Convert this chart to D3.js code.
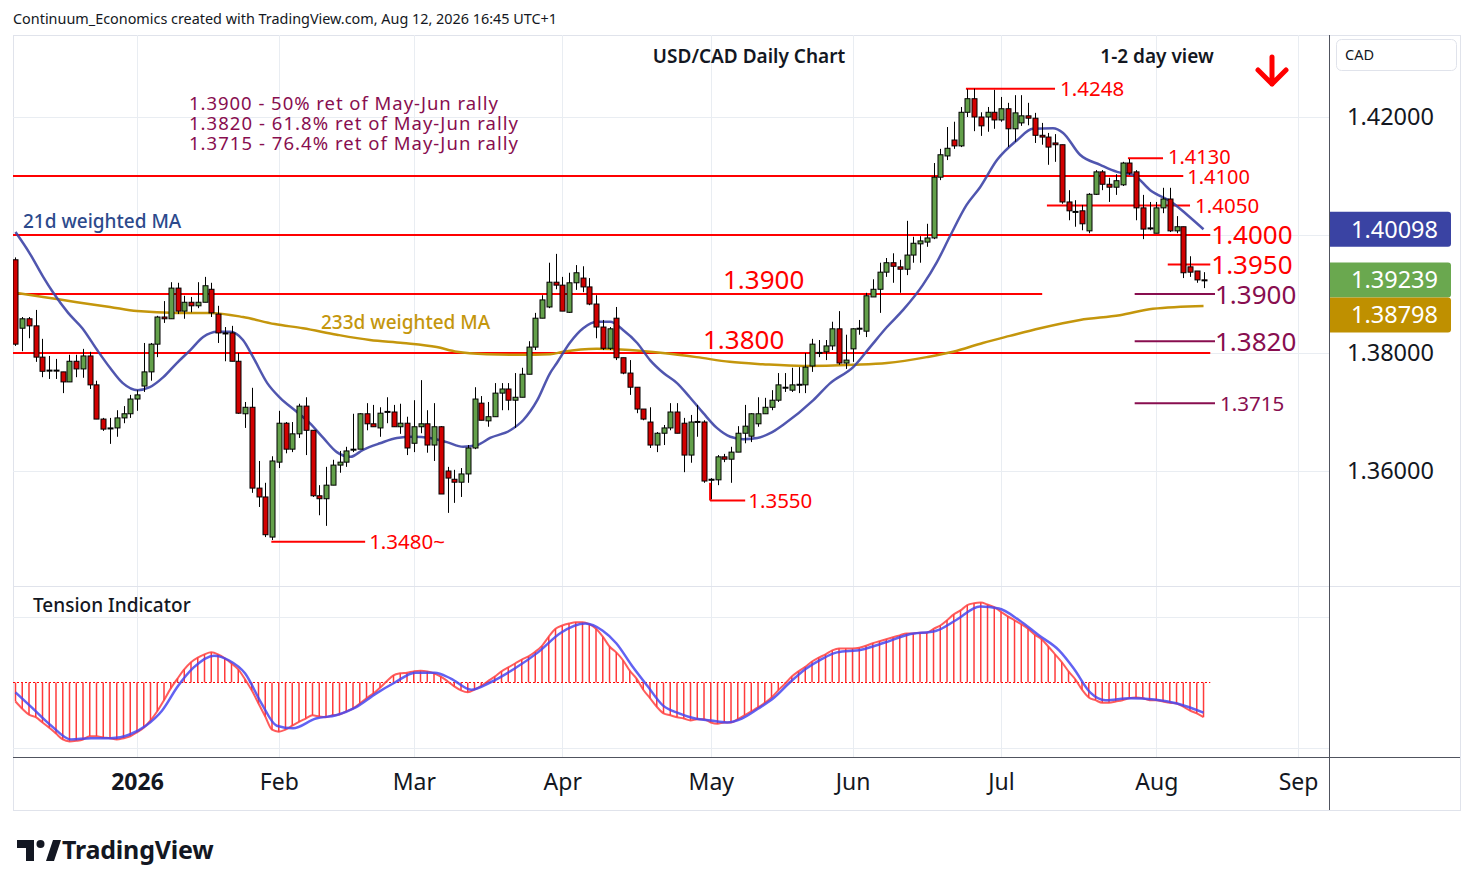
<!DOCTYPE html>
<html>
<head>
<meta charset="utf-8">
<script src="https://cdn.jsdelivr.net/npm/d3@7/dist/d3.min.js"></script>
<style>
  body { margin: 0; background: #fff; }
  svg text { font-family: "Noto Sans", "DejaVu Sans", sans-serif; }
</style>
</head>
<body>
<div id="chart"></div>
<script>
// daily USD/CAD candles, Dec 5 2025 .. Aug 12 2026 (index = trading day)
var open = [
1.3958,1.3842,1.3858,1.3846,1.3793,1.3770,1.3771,1.3768,1.3751,1.3786,
1.3773,1.3795,1.3746,1.3688,1.3672,1.3673,1.3690,1.3697,1.3722,1.3744,
1.3768,1.3815,1.3861,1.3858,1.3910,1.3871,1.3886,1.3880,1.3886,1.3908,
1.3866,1.3834,1.3834,1.3786,1.3697,1.3708,1.3571,1.3556,1.3488,1.3615,
1.3681,1.3637,1.3663,1.3710,1.3669,1.3558,1.3553,1.3576,1.3610,1.3615,
1.3636,1.3637,1.3697,1.3680,1.3673,1.3700,1.3700,1.3675,1.3681,1.3647,
1.3675,1.3680,1.3644,1.3675,1.3600,1.3586,1.3581,1.3595,1.3639,1.3715,
1.3685,1.3692,1.3732,1.3739,1.3720,1.3725,1.3764,1.3810,1.3859,1.3878,
1.3920,1.3915,1.3869,1.3919,1.3927,1.3912,1.3883,1.3844,1.3808,1.3859,
1.3792,1.3766,1.3742,1.3705,1.3683,1.3644,1.3664,1.3673,1.3700,1.3681,
1.3627,1.3683,1.3683,1.3585,1.3585,1.3624,1.3620,1.3632,1.3664,1.3659,
1.3680,1.3697,1.3708,1.3720,1.3741,1.3737,1.3746,1.3746,1.3778,1.3800,
1.3802,1.3812,1.3841,1.3783,1.3807,1.3841,1.3837,1.3895,1.3908,1.3937,
1.3953,1.3946,1.3942,1.3966,1.3985,1.3988,1.3995,1.4098,1.4134,1.4161,
1.4151,1.4208,1.4231,1.4200,1.4200,1.4208,1.4195,1.4214,1.4180,1.4190,
1.4202,1.4198,1.4169,1.4166,1.4156,1.4153,1.4056,1.4039,1.4041,1.4007,
1.4069,1.4107,1.4086,1.4081,1.4085,1.4122,1.4107,1.4046,1.4012,1.4003,
1.4046,1.4061,1.4007,1.4014,1.3946,1.3939,1.3924];

var high = [
1.3962,1.3861,1.3861,1.3873,1.3824,1.3795,1.3790,1.3768,1.3797,1.3797,
1.3807,1.3802,1.3753,1.3690,1.3690,1.3703,1.3710,1.3729,1.3737,1.3817,
1.3817,1.3863,1.3888,1.3920,1.3919,1.3897,1.3895,1.3920,1.3929,1.3919,
1.3880,1.3844,1.3846,1.3800,1.3717,1.3741,1.3617,1.3580,1.3625,1.3702,
1.3683,1.3683,1.3714,1.3725,1.3669,1.3576,1.3607,1.3619,1.3634,1.3641,
1.3697,1.3698,1.3715,1.3712,1.3708,1.3725,1.3712,1.3714,1.3692,1.3720,
1.3754,1.3703,1.3715,1.3676,1.3607,1.3602,1.3605,1.3644,1.3742,1.3727,
1.3717,1.3749,1.3749,1.3749,1.3766,1.3775,1.3820,1.3868,1.3898,1.3953,
1.3968,1.3929,1.3936,1.3949,1.3947,1.3927,1.3898,1.3856,1.3844,1.3878,
1.3792,1.3788,1.3742,1.3705,1.3708,1.3666,1.3678,1.3715,1.3715,1.3690,
1.3695,1.3712,1.3686,1.3588,1.3627,1.3629,1.3641,1.3676,1.3712,1.3698,
1.3725,1.3724,1.3737,1.3766,1.3766,1.3775,1.3776,1.3800,1.3824,1.3822,
1.3822,1.3853,1.3871,1.3831,1.3842,1.3856,1.3902,1.3925,1.3953,1.3961,
1.3969,1.3958,1.4024,1.3997,1.3998,1.4019,1.4122,1.4146,1.4183,1.4192,
1.4217,1.4247,1.4248,1.4208,1.4217,1.4246,1.4234,1.4224,1.4237,1.4237,
1.4224,1.4207,1.4190,1.4173,1.4171,1.4153,1.4076,1.4059,1.4051,1.4071,
1.4110,1.4110,1.4097,1.4103,1.4124,1.4129,1.4110,1.4068,1.4056,1.4056,
1.4080,1.4080,1.4032,1.4014,1.3964,1.3939,1.3937];

var low = [
1.3812,1.3803,1.3825,1.3785,1.3759,1.3756,1.3756,1.3732,1.3751,1.3759,
1.3758,1.3739,1.3688,1.3668,1.3646,1.3658,1.3681,1.3690,1.3702,1.3734,
1.3753,1.3793,1.3851,1.3858,1.3866,1.3858,1.3869,1.3876,1.3886,1.3861,
1.3817,1.3786,1.3786,1.3697,1.3673,1.3563,1.3539,1.3488,1.3483,1.3605,
1.3630,1.3632,1.3656,1.3627,1.3556,1.3525,1.3507,1.3576,1.3597,1.3607,
1.3632,1.3637,1.3669,1.3675,1.3658,1.3681,1.3675,1.3663,1.3627,1.3632,
1.3664,1.3631,1.3617,1.3561,1.3529,1.3546,1.3556,1.3580,1.3637,1.3686,
1.3675,1.3692,1.3703,1.3703,1.3673,1.3725,1.3764,1.3805,1.3859,1.3876,
1.3908,1.3871,1.3868,1.3907,1.3903,1.3881,1.3825,1.3805,1.3805,1.3788,
1.3764,1.3729,1.3698,1.3686,1.3639,1.3632,1.3644,1.3669,1.3664,1.3598,
1.3614,1.3658,1.3580,1.3552,1.3576,1.3615,1.3580,1.3632,1.3647,1.3649,
1.3675,1.3697,1.3703,1.3717,1.3734,1.3734,1.3732,1.3732,1.3768,1.3793,
1.3788,1.3805,1.3780,1.3773,1.3785,1.3831,1.3827,1.3895,1.3868,1.3929,
1.3919,1.3902,1.3932,1.3953,1.3953,1.3980,1.3993,1.4093,1.4127,1.4146,
1.4149,1.4200,1.4176,1.4168,1.4175,1.4180,1.4192,1.4149,1.4158,1.4185,
1.4186,1.4156,1.4153,1.4119,1.4124,1.4053,1.4025,1.4014,1.4008,1.4003,
1.4068,1.4076,1.4056,1.4068,1.4083,1.4102,1.4025,1.3993,1.4008,1.4003,
1.4037,1.4005,1.4003,1.3927,1.3929,1.3919,1.3910];

var close = [
1.3815,1.3858,1.3846,1.3793,1.3769,1.3771,1.3770,1.3751,1.3786,1.3773,
1.3795,1.3746,1.3688,1.3671,1.3673,1.3690,1.3697,1.3722,1.3729,1.3768,
1.3815,1.3861,1.3858,1.3910,1.3871,1.3886,1.3880,1.3886,1.3914,1.3868,
1.3834,1.3833,1.3786,1.3698,1.3708,1.3571,1.3556,1.3492,1.3617,1.3681,
1.3637,1.3663,1.3710,1.3669,1.3558,1.3553,1.3576,1.3610,1.3615,1.3634,
1.3637,1.3697,1.3680,1.3675,1.3698,1.3701,1.3675,1.3681,1.3639,1.3675,
1.3680,1.3644,1.3675,1.3561,1.3588,1.3581,1.3595,1.3639,1.3722,1.3686,
1.3692,1.3732,1.3739,1.3720,1.3725,1.3764,1.3810,1.3859,1.3890,1.3920,
1.3915,1.3871,1.3919,1.3936,1.3912,1.3883,1.3844,1.3808,1.3841,1.3792,
1.3766,1.3742,1.3705,1.3688,1.3644,1.3664,1.3673,1.3700,1.3664,1.3627,
1.3683,1.3684,1.3583,1.3586,1.3624,1.3620,1.3632,1.3664,1.3676,1.3697,
1.3697,1.3708,1.3720,1.3746,1.3742,1.3746,1.3747,1.3776,1.3815,1.3801,
1.3812,1.3841,1.3783,1.3788,1.3841,1.3842,1.3897,1.3908,1.3937,1.3953,
1.3947,1.3942,1.3966,1.3986,1.3990,1.3995,1.4098,1.4136,1.4147,1.4151,
1.4208,1.4231,1.4200,1.4185,1.4208,1.4195,1.4214,1.4180,1.4207,1.4202,
1.4198,1.4169,1.4166,1.4149,1.4153,1.4056,1.4041,1.4040,1.4019,1.4069,
1.4107,1.4086,1.4081,1.4092,1.4122,1.4105,1.4046,1.4010,1.4011,1.4046,
1.4061,1.4007,1.4014,1.3936,1.3937,1.39239,1.39239];

// 21d weighted MA at bar index
var wma21Idx = [0,2.1,4.1,5.6,7.8,9.9,12.1,14,15.9,18.1,19.9,21.9,23.9,25.9,27.8,29.9,31.8,33.7,35.2,37.3,39.2,41.7,43.6,45.6,47.6,49.6,51.5,54,56.5,58.9,61.4,63.9,66.3,68.4,70.3,73.3,75.2,77.3,79.2,80.2,82.1,84.1,86.1,88.1,90,92.1,94,96,98,99.9,101.9,103.9,105.9,107.8,109.9,111.8,113.7,118.2,120.7,124.1,126.6,129.1,131.5,134.4,136.5,138.4,140.9,142.9,145.4,148.4,150.7,153.7,155.2,157.7,160.7,163.2,165.6,168.1,171.5,173.6,176];
var wma21 = [1.4005,1.3969,1.3929,1.3902,1.3868,1.3842,1.3805,1.3775,1.3749,1.3737,1.3742,1.3759,1.3783,1.3805,1.3827,1.3836,1.3836,1.3822,1.3793,1.3749,1.3724,1.3700,1.3681,1.3656,1.3632,1.3624,1.3636,1.3647,1.3656,1.3658,1.3656,1.3649,1.3641,1.3644,1.3656,1.3669,1.3686,1.3720,1.3766,1.3783,1.3817,1.3842,1.3853,1.3853,1.3839,1.3817,1.3788,1.3766,1.3749,1.3725,1.3698,1.3673,1.3658,1.3654,1.3656,1.3664,1.3678,1.3720,1.3749,1.3776,1.3810,1.3844,1.3873,1.3915,1.3954,1.3997,1.4051,1.4081,1.4127,1.4161,1.4180,1.4181,1.4173,1.4136,1.4119,1.4107,1.4102,1.4076,1.4054,1.4034,1.40098];

// 233d weighted MA
var wma233Idx = [0,4.1,9.1,14,18,23.9,28.8,33.7,38.4,42.6,47.6,52.5,57.4,62.4,65.4,69.8,74.7,79.2,81.1,86.1,91,95.9,100.9,105.8,110.7,116.7,124.1,129.1,135,138.9,143.3,147.3,151.8,157.7,163.6,168.5,176];
var wma233 = [1.3902,1.3895,1.3886,1.3878,1.3871,1.3868,1.3868,1.3861,1.3849,1.3842,1.3831,1.3822,1.3817,1.3810,1.3802,1.3798,1.3797,1.3798,1.3802,1.3807,1.3805,1.3800,1.3793,1.3785,1.3781,1.3778,1.3780,1.3783,1.3793,1.3802,1.3817,1.3829,1.3842,1.3856,1.3864,1.3875,1.38798];

// tension indicator, one value per bar, and its signal line
var tension = [
-0.29,-0.40,-0.49,-0.53,-0.61,-0.69,-0.78,-0.87,-0.90,-0.89,
-0.87,-0.82,-0.82,-0.84,-0.85,-0.87,-0.85,-0.82,-0.76,-0.69,
-0.58,-0.44,-0.27,-0.09,0.06,0.20,0.31,0.38,0.43,0.46,
0.43,0.37,0.29,0.20,0.05,-0.12,-0.32,-0.52,-0.72,-0.75,
-0.72,-0.66,-0.60,-0.55,-0.50,-0.52,-0.53,-0.50,-0.49,-0.44,
-0.40,-0.32,-0.24,-0.17,-0.08,0.02,0.11,0.14,0.15,0.17,
0.18,0.17,0.14,0.09,0.02,-0.06,-0.12,-0.15,-0.11,-0.05,
0.02,0.09,0.17,0.23,0.29,0.35,0.40,0.47,0.56,0.70,
0.82,0.87,0.90,0.92,0.92,0.89,0.82,0.70,0.55,0.46,
0.34,0.18,0.06,-0.11,-0.24,-0.37,-0.47,-0.50,-0.53,-0.55,
-0.58,-0.56,-0.56,-0.61,-0.63,-0.61,-0.61,-0.56,-0.50,-0.44,
-0.38,-0.31,-0.23,-0.12,-0.02,0.09,0.17,0.24,0.32,0.38,
0.43,0.49,0.52,0.52,0.52,0.53,0.56,0.60,0.63,0.66,
0.69,0.72,0.75,0.75,0.76,0.76,0.82,0.87,0.95,1.04,
1.10,1.18,1.21,1.22,1.19,1.15,1.08,1.01,0.95,0.89,
0.82,0.73,0.66,0.55,0.43,0.31,0.17,0.05,-0.11,-0.23,
-0.27,-0.31,-0.31,-0.29,-0.27,-0.24,-0.23,-0.24,-0.27,-0.27,
-0.29,-0.31,-0.32,-0.37,-0.43,-0.47,-0.53];
var signalIdx = [0,2.4,5.3,8.2,11.2,14.1,17,19.3,21.7,24.1,26.4,29.4,31.6,34,36.4,38.7,41.1,44.5,47.5,50.4,53.4,56.2,59.2,62.1,64.5,67.5,70.3,73.9,77.4,80.8,84.4,87,89,91.3,93.6,95.9,98.3,100.7,103,105.4,107.6,110,112.4,114.7,117.1,119.3,121.7,125.3,128.8,132.2,136.4,139.3,142.9,145.7,148.7,151.6,154.6,156.8,159.2,161.5,165.1,168.7,172.1,176];
var signal = [-0.15,-0.38,-0.66,-0.87,-0.85,-0.85,-0.79,-0.66,-0.43,-0.05,0.23,0.41,0.34,0.14,-0.31,-0.66,-0.70,-0.55,-0.50,-0.38,-0.17,0.00,0.15,0.15,0.06,-0.11,0.00,0.21,0.46,0.76,0.90,0.79,0.60,0.26,-0.05,-0.35,-0.47,-0.55,-0.58,-0.61,-0.55,-0.40,-0.23,0.00,0.21,0.35,0.46,0.50,0.61,0.73,0.79,0.95,1.16,1.13,0.95,0.72,0.49,0.21,-0.15,-0.27,-0.24,-0.26,-0.32,-0.46];

// month ticks (bar index of first trading day)
var monthIdx = [18, 39, 59, 81, 103, 124, 146, 169, 190];
var monthLabels = ["2026", "Feb", "Mar", "Apr", "May", "Jun", "Jul", "Aug", "Sep"];
var priceTicks = [1.42, 1.40, 1.38, 1.36];

var fibNotes = ["1.3900 - 50% ret of May-Jun rally",
                "1.3820 - 61.8% ret of May-Jun rally",
                "1.3715 - 76.4% ret of May-Jun rally"];
var fibWidths = [309, 329, 329];

var width = 1474, height = 887;
var pane = { left: 13, right: 1329, top: 35, mid: 586, bottom: 757, axisBottom: 810, outerRight: 1460 };

var RED = "#ff0000", PURPLE = "#880e4f", BLUE = "#3d44a6", GOLD = "#c4960c",
    UP = "#63a04a", DOWN = "#d20000";

var x = d3.scaleLinear().domain([-0.37, 194.44]).range([pane.left, pane.right - 1]);
var y = d3.scaleLinear().domain([1.36, 1.42]).range([471, 117]);
var yT = d3.scaleLinear().domain([-1, 1]).range([748, 617]);

var svg = d3.select("#chart").append("svg")
    .attr("width", width)
    .attr("height", height);

svg.append("rect").attr("width", width).attr("height", height).attr("fill", "#fff");

var defs = svg.append("defs");
defs.append("clipPath").attr("id", "clipMain").append("rect")
    .attr("x", pane.left).attr("y", pane.top)
    .attr("width", pane.right - pane.left).attr("height", pane.mid - pane.top);
defs.append("clipPath").attr("id", "clipTension").append("rect")
    .attr("x", pane.left).attr("y", pane.mid)
    .attr("width", pane.right - pane.left).attr("height", pane.bottom - pane.mid);

// header
svg.append("text")
    .attr("x", 13).attr("y", 24)
    .attr("font-size", 14.4).attr("fill", "#131722")
    .text("Continuum_Economics created with TradingView.com, Aug 12, 2026 16:45 UTC+1");

// frame
svg.append("rect")
    .attr("x", pane.left + 0.5).attr("y", pane.top + 0.5)
    .attr("width", pane.outerRight - pane.left).attr("height", pane.axisBottom - pane.top)
    .attr("fill", "none").attr("stroke", "#e0e3eb");

// grid
var grid = svg.append("g").attr("stroke", "#e9edf2").attr("stroke-width", 1);
monthIdx.forEach(function(d) {
    var xx = Math.round(x(d)) + 0.5;
    grid.append("line").attr("x1", xx).attr("x2", xx).attr("y1", pane.top).attr("y2", pane.bottom);
});
priceTicks.forEach(function(p) {
    grid.append("line").attr("x1", pane.left).attr("x2", pane.right)
        .attr("y1", Math.round(y(p)) + 0.5).attr("y2", Math.round(y(p)) + 0.5);
});
[1, -1].forEach(function(v) {
    grid.append("line").attr("x1", pane.left).attr("x2", pane.right)
        .attr("y1", Math.round(yT(v)) + 0.5).attr("y2", Math.round(yT(v)) + 0.5);
});

// main pane
var main = svg.append("g").attr("clip-path", "url(#clipMain)");

// support / resistance lines
function hline(g, price, i0, i1, color, w) {
    g.append("line")
        .attr("x1", x(i0)).attr("x2", x(i1))
        .attr("y1", y(price)).attr("y2", y(price))
        .attr("stroke", color).attr("stroke-width", w);
}
hline(main, 1.41, -1, 173, RED, 2);
hline(main, 1.40, -1, 177, RED, 2);
hline(main, 1.39, -1, 152.1, RED, 2);
hline(main, 1.38, -1, 177, RED, 2);
hline(main, 1.4248, 140.8, 154, RED, 2);
hline(main, 1.4130, 164.8, 170, RED, 2);
hline(main, 1.4050, 152.8, 174, RED, 2);
hline(main, 1.3950, 170.7, 177, RED, 2);
hline(main, 1.3550, 102.9, 108.1, RED, 2);
hline(main, 1.3480, 37.9, 51.8, RED, 2);
hline(main, 1.3900, 165.8, 177.7, PURPLE, 2);
hline(main, 1.3820, 165.8, 177.7, PURPLE, 2);
hline(main, 1.3715, 165.8, 177.7, PURPLE, 2);

// moving averages
var maLine = d3.line().curve(d3.curveMonotoneX)
    .x(function(d) { return x(d[0]); })
    .y(function(d) { return y(d[1]); });

main.append("path")
    .datum(d3.zip(wma233Idx, wma233))
    .attr("d", maLine)
    .attr("fill", "none").attr("stroke", GOLD).attr("stroke-width", 2.5);

main.append("path")
    .datum(d3.zip(wma21Idx, wma21))
    .attr("d", maLine)
    .attr("fill", "none").attr("stroke", BLUE).attr("stroke-width", 2.5).attr("opacity", 0.9);

// candles
var candles = main.append("g");
close.forEach(function(c, i) {
    var o = open[i], xx = Math.round(x(i)) + 0.5;
    candles.append("line")
        .attr("x1", xx).attr("x2", xx)
        .attr("y1", y(high[i])).attr("y2", y(low[i]))
        .attr("stroke", "#000").attr("stroke-width", 1);
    var top = y(Math.max(o, c)), bot = y(Math.min(o, c));
    candles.append("rect")
        .attr("x", xx - 2.5).attr("width", 5)
        .attr("y", top).attr("height", Math.max(1, bot - top))
        .attr("fill", c >= o ? UP : DOWN)
        .attr("stroke", "#000").attr("stroke-width", 1);
});

// level labels
function label(txt, px, py, size, color) {
    svg.append("text")
        .attr("x", px).attr("y", py)
        .attr("dy", "0.36em")
        .attr("font-size", size).attr("fill", color)
        .text(txt);
}
label("1.4248", x(154) + 5, y(1.4248), 20.5, RED);
label("1.4130", x(170) + 5, y(1.4130) - 1.5, 20, RED);
label("1.4100", x(173) + 4, y(1.41) + 1, 20, RED);
label("1.4050", x(174) + 5, y(1.4050), 20.5, RED);
label("1.4000", x(177) + 1, y(1.40), 26, RED);
label("1.3950", x(177) + 1, y(1.3950), 26, RED);
label("1.3900", x(177.7), y(1.39) + 1, 26, PURPLE);
label("1.3820", x(177.7), y(1.382), 26, PURPLE);
label("1.3715", x(177.7) + 5, y(1.3715), 20.5, PURPLE);
label("1.3550", x(108.1) + 3, y(1.3550), 20.5, RED);
label("1.3480~", x(51.8) + 4, y(1.3480), 20.5, RED);
label("1.3900", 723, y(1.39) - 14, 26, RED);
label("1.3800", 703, y(1.38) - 13, 26, RED);

// short marker at the May low
svg.append("line")
    .attr("x1", x(102.9)).attr("x2", x(102.9))
    .attr("y1", y(1.3580)).attr("y2", y(1.3550))
    .attr("stroke", RED).attr("stroke-width", 2);

fibNotes.forEach(function(t, i) {
    svg.append("text")
        .attr("x", 189).attr("y", 110 + i * 20)
        .attr("font-size", 18.5).attr("fill", PURPLE)
        .attr("textLength", fibWidths[i]).attr("lengthAdjust", "spacing")
        .text(t);
});

svg.append("text").attr("x", 23).attr("y", 228)
    .attr("font-size", 19).attr("font-weight", 500).attr("fill", "#2c4a8c")
    .text("21d weighted MA");
svg.append("text").attr("x", 321).attr("y", 329)
    .attr("font-size", 19).attr("font-weight", 500).attr("fill", GOLD)
    .text("233d weighted MA");

// title
svg.append("text").attr("x", 749).attr("y", 63)
    .attr("text-anchor", "middle").attr("font-size", 19).attr("font-weight", 600)
    .attr("fill", "#131722").text("USD/CAD Daily Chart");
svg.append("text").attr("x", 1157).attr("y", 63)
    .attr("text-anchor", "middle").attr("font-size", 19).attr("font-weight", 600)
    .attr("fill", "#131722").text("1-2 day view");
svg.append("path")
    .attr("d", "M1272,57 L1272,84 M1258,70 L1272,84 L1286,70")
    .attr("fill", "none").attr("stroke", RED).attr("stroke-width", 5)
    .attr("stroke-linecap", "round").attr("stroke-linejoin", "round");

// tension pane
var tpane = svg.append("g").attr("clip-path", "url(#clipTension)");
tpane.append("line")
    .attr("x1", pane.left).attr("x2", x(177))
    .attr("y1", yT(0)).attr("y2", yT(0))
    .attr("stroke", RED).attr("stroke-width", 1.2).attr("stroke-dasharray", "2,2");
tension.forEach(function(v, i) {
    tpane.append("line")
        .attr("x1", x(i)).attr("x2", x(i))
        .attr("y1", yT(0)).attr("y2", yT(v))
        .attr("stroke", "#ff3b3b").attr("stroke-width", 1.5);
});
tpane.append("path")
    .datum(tension.map(function(v, i) { return [i, v]; }))
    .attr("d", d3.line().curve(d3.curveMonotoneX)
        .x(function(d) { return x(d[0]); })
        .y(function(d) { return yT(d[1]); }))
    .attr("fill", "none").attr("stroke", "#ff4040").attr("stroke-width", 2).attr("opacity", 0.85);
tpane.append("path")
    .datum(d3.zip(signalIdx, signal))
    .attr("d", d3.line().curve(d3.curveMonotoneX)
        .x(function(d) { return x(d[0]); })
        .y(function(d) { return yT(d[1]); }))
    .attr("fill", "none").attr("stroke", "#4646f0").attr("stroke-width", 2.5).attr("opacity", 0.85);

svg.append("text").attr("x", 33).attr("y", 612)
    .attr("font-size", 19).attr("font-weight", 500).attr("fill", "#131722")
    .text("Tension Indicator");

// separators
svg.append("line").attr("x1", pane.left).attr("x2", pane.outerRight)
    .attr("y1", pane.mid + 0.5).attr("y2", pane.mid + 0.5).attr("stroke", "#e0e3eb");
svg.append("line").attr("x1", pane.left).attr("x2", pane.outerRight)
    .attr("y1", pane.bottom + 0.5).attr("y2", pane.bottom + 0.5).attr("stroke", "#50535e");
svg.append("line").attr("x1", pane.right + 0.5).attr("x2", pane.right + 0.5)
    .attr("y1", pane.top).attr("y2", pane.axisBottom).attr("stroke", "#50535e");

// time axis
var xAxis = d3.axisBottom(x)
    .tickValues(monthIdx)
    .tickFormat(function(d, i) { return monthLabels[i]; })
    .tickSize(0).tickPadding(17);
var gx = svg.append("g")
    .attr("transform", "translate(0," + pane.bottom + ")")
    .call(xAxis);
gx.select(".domain").remove();
gx.selectAll("text")
    .attr("font-size", 23).attr("fill", "#131722")
    .attr("font-family", "Noto Sans, sans-serif")
    .attr("font-weight", function(d, i) { return i === 0 ? 700 : 400; });

// price axis
var yAxis = d3.axisRight(y)
    .tickValues([1.42, 1.38, 1.36])
    .tickFormat(d3.format(".5f"))
    .tickSize(0).tickPadding(18);
var gy = svg.append("g")
    .attr("transform", "translate(" + pane.right + ",0)")
    .call(yAxis);
gy.select(".domain").remove();
gy.selectAll("text")
    .attr("font-size", 23.5).attr("fill", "#131722")
    .attr("font-family", "Noto Sans, sans-serif");

// currency box
svg.append("rect").attr("x", 1336.5).attr("y", 39.5).attr("width", 120).attr("height", 31)
    .attr("rx", 5).attr("fill", "#fff").attr("stroke", "#e0e3eb");
svg.append("text").attr("x", 1345).attr("y", 60).attr("font-size", 14.5)
    .attr("fill", "#131722").text("CAD");

// last value tags
var lastBlue = wma21[wma21.length - 1],
    lastClose = close[close.length - 1],
    lastGold = wma233[wma233.length - 1];
var tags = [
    { v: lastBlue, c: "#3a43a3", yy: y(lastBlue) },
    { v: lastClose, c: "#6aa84f", yy: y(lastClose) },
    { v: lastGold, c: "#bf9000", yy: Math.max(y(lastGold), y(lastClose) + 35) }
];
tags.forEach(function(t) {
    svg.append("path")
        .attr("d", "M" + (pane.right + 1) + "," + (t.yy - 17.5) + " h118 q3,0 3,3 v29 q0,3 -3,3 h-118 z")
        .attr("fill", t.c);
    svg.append("text")
        .attr("x", 1438).attr("y", t.yy).attr("dy", "0.36em")
        .attr("text-anchor", "end").attr("font-size", 23.5).attr("fill", "#fff")
        .text(d3.format(".5f")(t.v));
});

// TradingView logo
var logo = svg.append("g").attr("fill", "#131722");
logo.append("path").attr("d", "M17,840 h17 v21 h-8 v-13 h-9 z");
logo.append("circle").attr("cx", 40.5).attr("cy", 844).attr("r", 4);
logo.append("path").attr("d", "M46,861 l7,-21 h8 l-7,21 z");
logo.append("text").attr("x", 62).attr("y", 859)
    .attr("font-size", 25).attr("font-weight", 700).attr("letter-spacing", -0.2)
    .text("TradingView");
</script>
</body>
</html>
